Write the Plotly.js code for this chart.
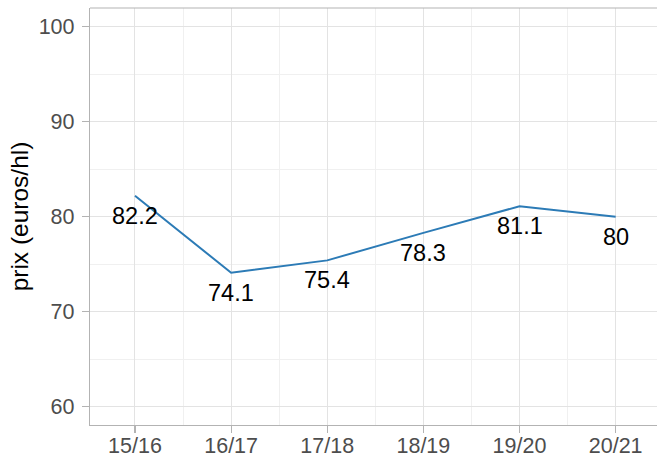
<!DOCTYPE html>
<html>
<head>
<meta charset="utf-8">
<script src="https://cdn.plot.ly/plotly-3.0.1.min.js"></script>
<style>html,body{margin:0;padding:0;background:#fff;}#chart{width:657px;height:459px;}</style>
</head>
<body>
<div id="chart"></div>
<script>
const campagnes = ["15/16", "16/17", "17/18", "18/19", "19/20", "20/21"];
const prix = [82.2, 74.1, 75.4, 78.3, 81.1, 80];
const etiquettes = ["82.2", "74.1", "75.4", "78.3", "81.1", "80"];
const yTicks = [60, 70, 80, 90, 100];

const xIdx = campagnes.map((c, i) => i);
const minorX = [];
for (let i = 0; i < campagnes.length; i++) minorX.push(i - 0.5, i + 0.5);

const trace = {
  x: xIdx, y: prix, type: 'scatter', mode: 'lines',
  line: {color: '#2C7BB6', width: 2}, hoverinfo: 'skip'
};

const annotations = xIdx.map((x, i) => ({
  x: x, y: prix[i], xref: 'x', yref: 'y', text: etiquettes[i],
  showarrow: false, yshift: -20, xanchor: 'center', yanchor: 'middle',
  font: {family: 'Liberation Sans, Arial, sans-serif', size: 23.5, color: '#000'}
}));

const layout = {
  width: 657, height: 459,
  margin: {l: 90, r: 0, t: 8, b: 34},
  paper_bgcolor: '#fff', plot_bgcolor: '#fff',
  showlegend: false,
  font: {family: 'Liberation Sans, Arial, sans-serif'},
  xaxis: {
    range: [-0.468, 5.43], tickmode: 'array', tickvals: xIdx, ticktext: campagnes,
    showgrid: true, gridcolor: '#E3E3E3', gridwidth: 1,
    minor: {tickmode: 'array', tickvals: minorX, showgrid: true, gridcolor: '#F0F0F0', gridwidth: 1, ticks: ''},
    zeroline: false, showline: true, linecolor: '#B3B3B3', linewidth: 1.2,
    ticks: 'outside', ticklen: 7, tickcolor: '#B3B3B3', tickwidth: 1.2,
    ticklabelstandoff: -6,
    tickfont: {size: 21.5, color: '#4D4D4D'}, fixedrange: true
  },
  yaxis: {
    range: [58.07, 101.97], tickmode: 'array', tickvals: yTicks,
    showgrid: true, gridcolor: '#E3E3E3', gridwidth: 1,
    minor: {dtick: 5, tick0: 55, showgrid: true, gridcolor: '#F0F0F0', gridwidth: 1, ticks: ''},
    zeroline: false, showline: true, linecolor: '#B3B3B3', linewidth: 1.2,
    ticks: 'outside', ticklen: 7, tickcolor: '#B3B3B3', tickwidth: 1.2,
    ticklabelstandoff: 3,
    tickfont: {size: 21.5, color: '#4D4D4D'},
    title: {text: 'prix (euros/hl)', font: {size: 24.5, color: '#000'}, standoff: 3},
    automargin: false, fixedrange: true
  },
  shapes: [{type: 'line', xref: 'paper', yref: 'paper', x0: 0, x1: 1, y0: 1, y1: 1,
            line: {color: '#B3B3B3', width: 1.2}}],
  annotations: annotations
};

Plotly.newPlot('chart', [trace], layout, {displayModeBar: false, staticPlot: true});
</script>
</body>
</html>
